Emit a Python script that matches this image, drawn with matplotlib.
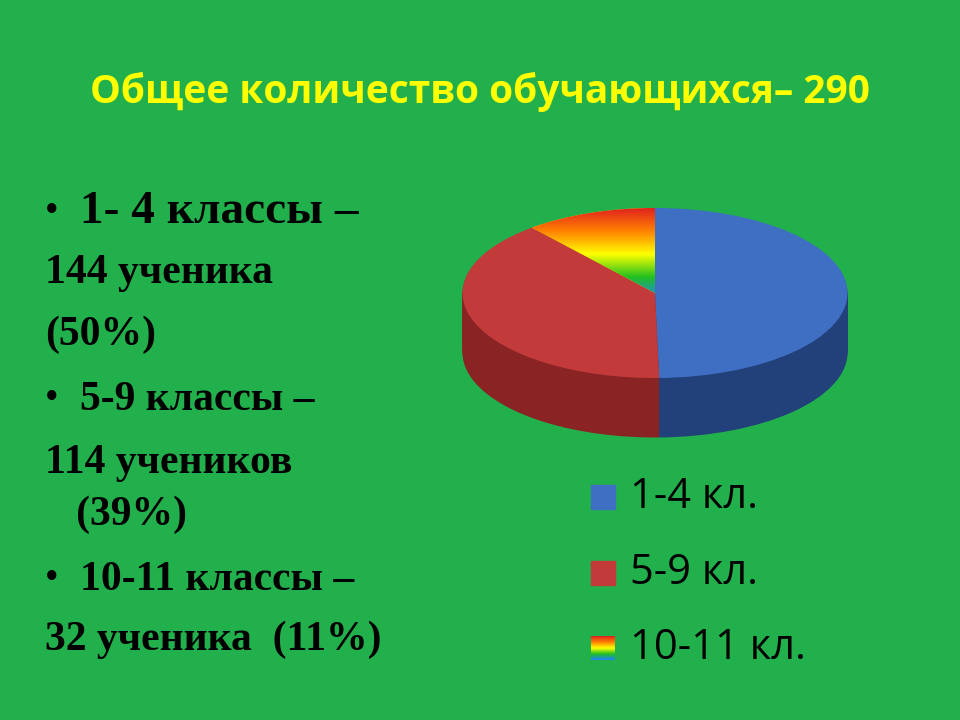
import numpy as np
import matplotlib
matplotlib.use("Agg")
import matplotlib.pyplot as plt
from matplotlib.colors import LinearSegmentedColormap

labels = ["1-4 кл.", "5-9 кл.", "10-11 кл."]
values = [144, 114, 32]
top_colors = ["#3F6FC2", "#C23A3A", "#FFD000"]
side_colors = ["#22407A", "#8A2424", "#B08A00"]
text_lines = [("• ", "1- 4 классы –"), ("", "144 ученика"), ("", "(50%)"),
              ("• ", "5-9 классы –"), ("", "114 учеников"), ("", "   (39%)"),
              ("• ", "10-11 классы –"), ("", "32 ученика  (11%)")]
text_y = [212, 273, 335, 400, 463, 515, 580, 640]
text_size = [34, 30, 30, 30, 30, 30, 30, 30]

BG = "#22B04C"
fig = plt.figure(figsize=(9.6, 7.2), dpi=100, facecolor=BG)
W, H = 960, 720

fig.text(480 / W, 1 - 92 / H, "Общее количество обучающихся– 290", ha="center", va="center",
         fontsize=28, fontweight="bold", color="#FFFF00", family="Open Sans")

for (b, t), y, s in zip(text_lines, text_y, text_size):
    if b:
        fig.text(45 / W, 1 - y / H, "•", fontsize=28, va="center", family="Liberation Serif")
        fig.text(80 / W, 1 - y / H, t, fontsize=s, fontweight="bold", va="center",
                 family="Liberation Serif")
    else:
        fig.text(45 / W, 1 - y / H, t, fontsize=s, fontweight="bold", va="center",
                 family="Liberation Serif")

# pie axes
x0, x1, y0, y1 = 455, 855, 200, 445
ax = fig.add_axes([x0 / W, 1 - y1 / H, (x1 - x0) / W, (y1 - y0) / H])
ax.set_facecolor("none")
depth = 0.7
for d in np.linspace(depth, 0.01, 40):
    ax.pie(values, colors=side_colors, startangle=90, counterclock=False,
           center=(0, -d), radius=1, frame=True)
wedges, _ = ax.pie(values, colors=top_colors, startangle=90, counterclock=False,
                   center=(0, 0), radius=1, frame=True)
ax.set_xlim(-200 / 192.5, 200 / 192.5)
ax.set_ylim(-(445 - 293) / 85, (293 - 200) / 85)
ax.set_aspect("auto")
ax.axis("off")
rainbow = LinearSegmentedColormap.from_list("rb", ["#E02020", "#FF8000", "#FFFF00", "#20C020", "#2080FF"])
grad = np.linspace(0, 1, 100).reshape(-1, 1)
im = ax.imshow(grad, cmap=rainbow, extent=(-1, 0, -0.1, 1), origin="upper", aspect="auto", zorder=5)
im.set_clip_path(wedges[2])

# legend
for lab, c, y in zip(labels, top_colors, [497, 573, 648]):
    if c == "#FFD000":
        lax = fig.add_axes([591 / W, 1 - (y + 12) / H, 24 / W, 24 / H])
        lax.imshow(grad, cmap=rainbow, aspect="auto")
        lax.axis("off")
    else:
        fig.patches.append(plt.Rectangle((591 / W, 1 - (y + 12) / H), 24 / W, 24 / H,
                                         transform=fig.transFigure, color=c))
    fig.text(630 / W, 1 - y / H, lab, fontsize=30, va="center", family="Open Sans")

fig.savefig("out.png", dpi=100, facecolor=BG)
